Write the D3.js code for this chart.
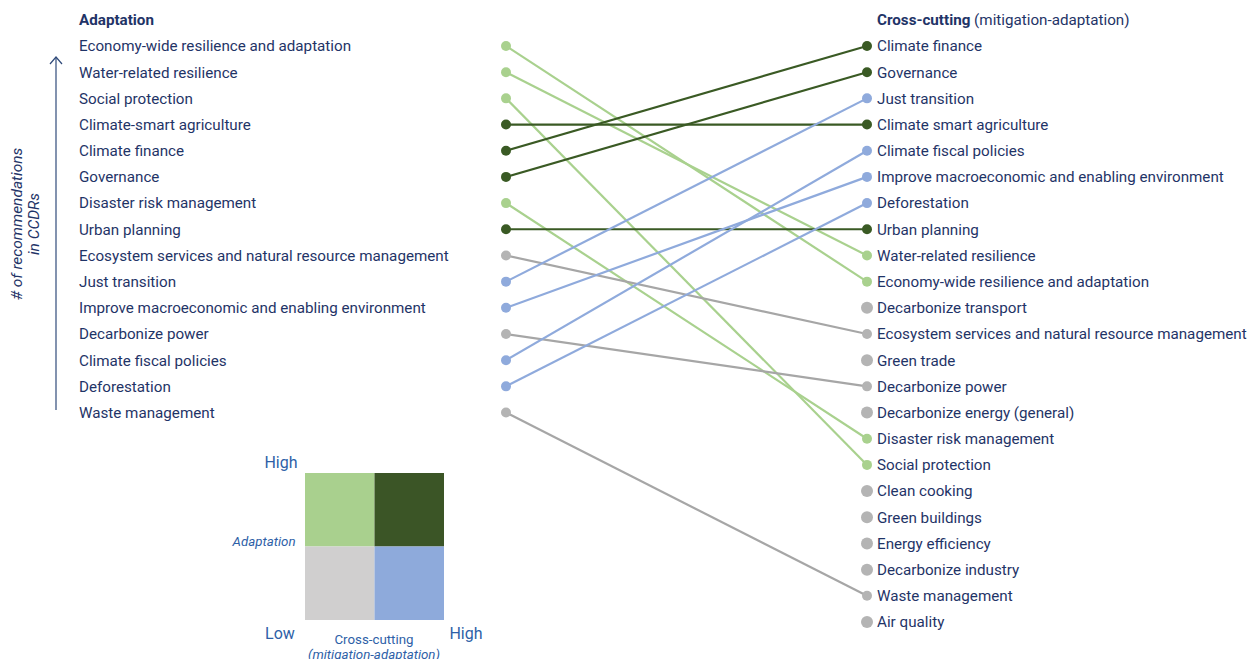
<!DOCTYPE html>
<html>
<head>
<meta charset="utf-8">
<script src="https://cdn.jsdelivr.net/npm/d3@7"></script>
<style>
  body { margin: 0; background: #fff; }
  svg { font-family: Roboto, "Noto Sans", sans-serif; }
</style>
</head>
<body>
<svg id="chart" width="1250" height="659"></svg>
<script>
// left column: adaptation ranking
var leftNames = ["Economy-wide resilience and adaptation", "Water-related resilience", "Social protection",
  "Climate-smart agriculture", "Climate finance", "Governance", "Disaster risk management", "Urban planning",
  "Ecosystem services and natural resource management", "Just transition",
  "Improve macroeconomic and enabling environment", "Decarbonize power", "Climate fiscal policies",
  "Deforestation", "Waste management"];
var leftGroup = ["adapt", "adapt", "adapt", "both", "both", "both", "adapt", "both",
  "low", "cross", "cross", "low", "cross", "cross", "low"];
// where each left item lands on the right
var leftTarget = ["Economy-wide resilience and adaptation", "Water-related resilience", "Social protection",
  "Climate smart agriculture", "Climate finance", "Governance", "Disaster risk management", "Urban planning",
  "Ecosystem services and natural resource management", "Just transition",
  "Improve macroeconomic and enabling environment", "Decarbonize power", "Climate fiscal policies",
  "Deforestation", "Waste management"];

// right column: cross-cutting ranking
var rightNames = ["Climate finance", "Governance", "Just transition", "Climate smart agriculture",
  "Climate fiscal policies", "Improve macroeconomic and enabling environment", "Deforestation", "Urban planning",
  "Water-related resilience", "Economy-wide resilience and adaptation", "Decarbonize transport",
  "Ecosystem services and natural resource management", "Green trade", "Decarbonize power",
  "Decarbonize energy (general)", "Disaster risk management", "Social protection", "Clean cooking",
  "Green buildings", "Energy efficiency", "Decarbonize industry", "Waste management", "Air quality"];
var rightGroup = ["both", "both", "cross", "both", "cross", "cross", "cross", "both", "adapt", "adapt",
  "low", "low", "low", "low", "low", "adapt", "adapt", "low", "low", "low", "low", "low", "low"];

var groups = ["adapt", "both", "low", "cross"];
var groupColors = ["#a9d18e", "#3a5a24", "#b4b4b4", "#8faadc"];
var legendColors = ["#a9d08e", "#3b5526", "#d0cfcf", "#8eaadb"];

var textColor = "#1f3467";
var legendText = "#2e5fa7";
var fs = 15.2;

var svg = d3.select("#chart");
var color = d3.scaleOrdinal().domain(groups).range(groupColors);
var y = d3.scaleLinear().domain([0, 22]).range([46, 622]);
var xLeftDot = 506, xRightDot = 867;

// headers
svg.append("text").attr("x", 79).attr("y", 20).attr("dy", "0.35em")
  .attr("font-size", fs).attr("font-weight", "bold").attr("fill", textColor).text("Adaptation");
var rh = svg.append("text").attr("x", 877).attr("y", 20).attr("dy", "0.35em")
  .attr("font-size", fs).attr("fill", textColor);
rh.append("tspan").attr("font-weight", "bold").text("Cross-cutting");
rh.append("tspan").text(" (mitigation-adaptation)");

// links
var links = leftNames.map(function(n, i) {
  return { i: i, j: rightNames.indexOf(leftTarget[i]), g: leftGroup[i] };
});
svg.append("g").selectAll("line")
  .data(links)
  .enter()
  .append("line")
  .attr("x1", xLeftDot)
  .attr("y1", function(d) { return y(d.i); })
  .attr("x2", xRightDot)
  .attr("y2", function(d) { return y(d.j); })
  .attr("stroke", function(d) { return d.g == "low" ? "#a6a6a6" : color(d.g); })
  .attr("stroke-width", 2.2);

// left labels + dots
var left = svg.append("g").selectAll("g")
  .data(leftNames)
  .enter()
  .append("g")
  .attr("transform", function(d, i) { return "translate(0," + y(i) + ")"; });
left.append("text").attr("x", 79).attr("dy", "0.35em").attr("font-size", fs)
  .attr("fill", textColor).text(function(d) { return d; });
left.append("circle").attr("cx", xLeftDot).attr("r", 5)
  .attr("fill", function(d, i) { return color(leftGroup[i]); });

// right labels + dots
var right = svg.append("g").selectAll("g")
  .data(rightNames)
  .enter()
  .append("g")
  .attr("transform", function(d, i) { return "translate(0," + y(i) + ")"; });
right.append("circle").attr("cx", xRightDot).attr("r", function(d) {
    return leftTarget.indexOf(d) >= 0 ? 5 : 6;
  })
  .attr("fill", function(d, i) { return color(rightGroup[i]); });
right.append("text").attr("x", 877).attr("dy", "0.35em").attr("font-size", fs)
  .attr("fill", textColor).text(function(d) { return d; });

// vertical arrow + axis label
svg.append("line").attr("x1", 56).attr("x2", 56).attr("y1", 410).attr("y2", 57)
  .attr("stroke", "#2f4a7a").attr("stroke-width", 1.2);
svg.append("path").attr("d", "M50,64 L56,57 L62,64")
  .attr("fill", "none").attr("stroke", "#2f4a7a").attr("stroke-width", 1.2);
var axl = svg.append("text").attr("transform", "translate(22,224) rotate(-90)")
  .attr("text-anchor", "middle").attr("font-size", 15.5).attr("font-style", "italic")
  .attr("fill", textColor);
axl.append("tspan").attr("x", 0).attr("dy", 0).text("# of recommendations");
axl.append("tspan").attr("x", 0).attr("dy", 17).text("in CCDRs");

// legend quadrant
var lx = d3.scaleBand().domain([0, 1]).range([305, 444]);
var ly = d3.scaleBand().domain([0, 1]).range([473, 620]);
var cells = [[0, 0], [1, 0], [0, 1], [1, 1]];
svg.append("g").selectAll("rect")
  .data(cells)
  .enter()
  .append("rect")
  .attr("x", function(d) { return lx(d[0]); })
  .attr("y", function(d) { return ly(d[1]); })
  .attr("width", lx.bandwidth())
  .attr("height", ly.bandwidth())
  .attr("fill", function(d, i) { return legendColors[i]; });

svg.append("text").attr("x", 281).attr("y", 462).attr("dy", "0.35em").attr("text-anchor", "middle")
  .attr("font-size", 16).attr("fill", legendText).text("High");
svg.append("text").attr("x", 264).attr("y", 541).attr("dy", "0.35em").attr("text-anchor", "middle")
  .attr("font-size", 13.3).attr("font-style", "italic").attr("fill", legendText).text("Adaptation");
svg.append("text").attr("x", 280).attr("y", 633).attr("dy", "0.35em").attr("text-anchor", "middle")
  .attr("font-size", 16).attr("fill", legendText).text("Low");
svg.append("text").attr("x", 466).attr("y", 633).attr("dy", "0.35em").attr("text-anchor", "middle")
  .attr("font-size", 16).attr("fill", legendText).text("High");
svg.append("text").attr("x", 374).attr("y", 639).attr("dy", "0.35em").attr("text-anchor", "middle")
  .attr("font-size", 13.3).attr("fill", legendText).text("Cross-cutting");
svg.append("text").attr("x", 374).attr("y", 654).attr("dy", "0.35em").attr("text-anchor", "middle")
  .attr("font-size", 13.3).attr("font-style", "italic").attr("fill", legendText).text("(mitigation-adaptation)");
</script>
</body>
</html>
